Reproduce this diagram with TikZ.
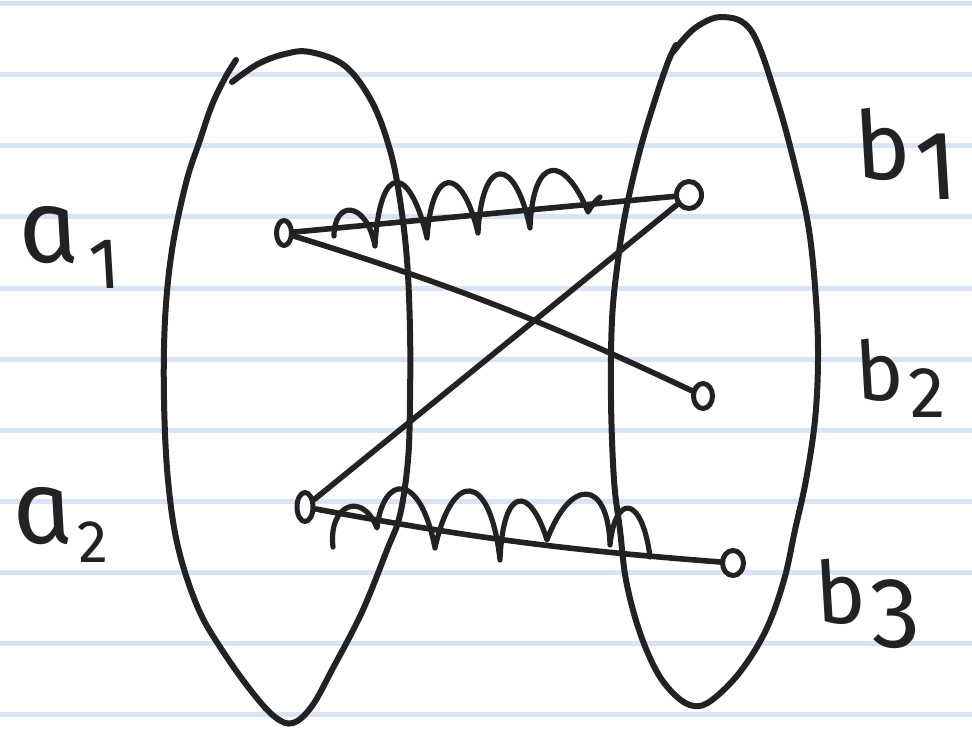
\documentclass[tikz,border=0pt]{standalone}
\usepackage{fontspec}
\newfontfamily\hand[ItalicFeatures={FakeSlant=-0.2}]{Fira Sans}
\usetikzlibrary{shapes.geometric}
\definecolor{ink}{RGB}{34,34,34}
\definecolor{rulecol}{RGB}{214,228,246}
\newcommand\hlab[6]{{\hand\itshape\fontsize{#1}{#1}\selectfont #2\kern#6pt\raisebox{-#3pt}{\fontsize{#4}{#4}\selectfont #5}}}
\begin{document}
\begin{tikzpicture}[x=1pt,y=-1pt,line cap=round,line join=round,
  ruleline/.style={draw=rulecol,line width=5pt},
  loopline/.style={draw=ink,line width=6pt},
  edge/.style={draw=ink,line width=5.6pt},
  dot/.style={ellipse,draw=ink,line width=5pt,inner sep=0pt,fill=white},
  spring/.style={draw=ink,line width=5.2pt},
  lab/.style={anchor=base west,inner sep=0pt,text=ink}]
\useasboundingbox (0,0) rectangle (972,730);
\fill[white] (0,0) rectangle (972,730);
\foreach \yy in {4,75,146,217,288,359,430,501,572,643,714}
  \draw[ruleline] (0,\yy) -- (972,\yy);
% sets
\draw[loopline] plot[smooth,tension=0.6] coordinates {(232,82) (258,64) (285,54) (310,52) (345,66) (372,102) (390,150) (400,200) (407,260) (410,330) (410,400) (408,460) (400,515) (387,550) (362,612) (333,668) (312,706) (293,723) (275,717) (252,692) (222,650) (198,608) (178,547) (168,480) (164,400) (165,320) (172,250) (186,183) (200,140) (212,105) (225,78) (236,60)};
\draw[loopline] plot[smooth,tension=0.6] coordinates {(673,52) (695,28) (723,17) (752,32) (777,100) (796,170) (809,230) (816,300) (818,360) (815,420) (806,480) (795,530) (784,580) (766,630) (740,672) (712,700) (694,706) (676,696) (657,672) (639,630) (626,580) (620,530) (614,480) (611,400) (612,320) (618,260) (626,210) (640,150) (655,100) (668,62) (676,45)};
% springs
\draw[spring] (334,236) .. controls (334,200) and (366,200) .. (375,246)
  .. controls (380,160) and (410,165) .. (427,238)
  .. controls (432,165) and (462,165) .. (478,233)
  .. controls (482,155) and (515,155) .. (530,228)
  .. controls (533,153) and (565,155) .. (588,212)
  .. controls (592,205) and (596,200) .. (600,197);
\draw[spring] (333,547) .. controls (328,505) and (362,490) .. (377,528)
  .. controls (383,475) and (420,470) .. (435,548)
  .. controls (452,470) and (490,470) .. (500,560)
  .. controls (503,485) and (530,485) .. (547,540)
  .. controls (570,478) and (608,478) .. (610,545)
  .. controls (615,494) and (642,494) .. (650,557);
% elements
\node[dot,minimum width=15pt,minimum height=25pt] (a1) at (284,233) {};
\node[dot,minimum width=16pt,minimum height=29pt] (a2) at (305,507) {};
\node[dot,minimum width=25pt,minimum height=27pt] (b1) at (689,195) {};
\node[dot,minimum width=19pt,minimum height=25pt] (b2) at (703,396) {};
\node[dot,minimum width=21pt,minimum height=25pt] (b3) at (733,563) {};
% connectors
\draw[edge] (a1) -- (b1);
\draw[edge] (a1) to[bend left=4] (b2);
\draw[edge] (a2) -- (b1);
\draw[edge] (a2) to[bend right=3] (b3);
% labels
\node[lab] (la1) at (24,262) {\hlab{104}{a}{26}{72}{1}{10}};
\node[lab] (la2) at (18,543) {\hlab{104}{a}{19}{60}{2}{4}};
\node[lab] (lb1) at (860,180) {\hlab{95}{b}{20}{98}{1}{6}};
\node[lab] (lb2) at (860,400) {\hlab{82}{b}{17}{72}{2}{6}};
\node[lab] (lb3) at (820,623) {\hlab{86}{b}{24}{100}{3}{6}};
\end{tikzpicture}
\end{document}
